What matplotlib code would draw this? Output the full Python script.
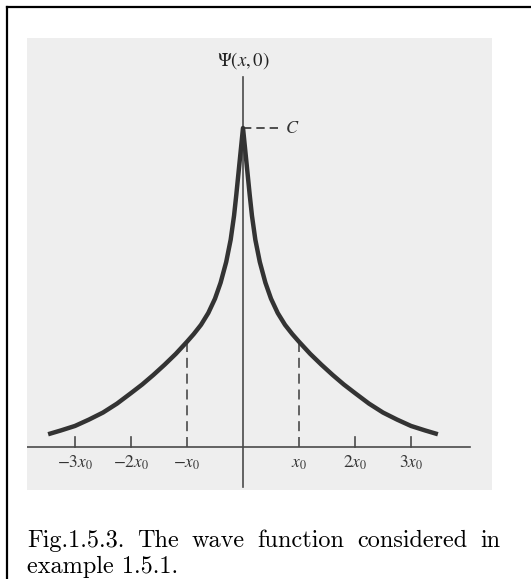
import matplotlib.pyplot as plt
from matplotlib.lines import Line2D

W, H = 531, 579

# right branch of Psi(x,0)/C, x in units of x0 (left branch is the mirror)
x_pts = [0.0, 0.04, 0.08, 0.12, 0.16, 0.22, 0.3, 0.4, 0.5, 0.62, 0.75, 0.88,
         1.0, 1.2, 1.4, 1.6, 1.8, 2.0, 2.25, 2.5, 2.75, 3.0, 3.25, 3.48]
psi_pts = [1.0, 0.93, 0.86, 0.79, 0.725, 0.65, 0.58, 0.515, 0.465, 0.42, 0.383, 0.354,
           0.33, 0.292, 0.258, 0.226, 0.196, 0.169, 0.136, 0.108, 0.086, 0.066, 0.052, 0.04]

tick_pos = [-3, -2, -1, 1, 2, 3]
tick_labels = [r'$-3x_0$', r'$-2x_0$', r'$-x_0$', r'$x_0$', r'$2x_0$', r'$3x_0$']
dashed_at = [-1, 1]

caption1 = "Fig.1.5.3. The wave function considered in"
caption2 = "example 1.5.1."

xs = [-x for x in reversed(x_pts)] + x_pts[1:]
ys = list(reversed(psi_pts)) + psi_pts[1:]
psi_at = dict(zip(x_pts, psi_pts))

fig = plt.figure(figsize=(W / 100, H / 100), dpi=100)
fig.patch.set_facecolor('white')

# frame of the figure box (runs off the right and bottom edges)
fig.add_artist(Line2D([7 / W, 1], [1 - 7 / H, 1 - 7 / H], color='black', lw=1.6))
fig.add_artist(Line2D([7 / W, 7 / W], [1 - 7 / H, 0], color='black', lw=1.6))

ax = fig.add_axes([27 / W, (H - 490) / H, 465 / W, 452 / H])
ax.set_facecolor('#eeeeee')
ax.set_xlim((27 - 243) / 56, (492 - 243) / 56)
ax.set_ylim((447 - 490) / 319, (447 - 38) / 319)
ax.set_xticks([])
ax.set_yticks([])
for s in ax.spines.values():
    s.set_visible(False)

axis_col = '#4a4a4a'
ax.plot([ax.get_xlim()[0], 4.05], [0, 0], color=axis_col, lw=1.2, zorder=2)
ax.plot([0, 0], [-0.125, 1.16], color=axis_col, lw=1.2, zorder=2)

for t in tick_pos:
    if t in dashed_at:
        ax.plot([t, t], [0, psi_at[abs(t)]], color=axis_col, lw=1.2,
                dashes=(6, 3.5), zorder=2)
    else:
        ax.plot([t, t], [0, 0.03], color=axis_col, lw=1.2, zorder=2)

for t, lab in zip(tick_pos, tick_labels):
    ax.text(t, -0.05, lab, ha='center', va='center', fontsize=12.5,
            math_fontfamily='stix', color='#333333')

# the C level marker
ax.plot([0, 0.7], [1, 1], color='#333333', lw=1.2, dashes=(5, 3), zorder=2)
ax.text(0.88, 1.0, r'$C$', ha='center', va='center', fontsize=13,
        math_fontfamily='stix', color='#333333')

ax.text(0, 1.213, r'$\Psi(x,0)$', ha='center', va='center', fontsize=13.5,
        math_fontfamily='stix', color='#222222')

ax.plot(xs, ys, color='#333333', lw=3.2, solid_capstyle='butt',
        solid_joinstyle='round', zorder=3)

# caption, first line justified between the margins
fig.canvas.draw()
r = fig.canvas.get_renderer()
words = caption1.split()
texts = [fig.text(0, 1 - 547 / H, w, family='cmr10', fontsize=17.5,
                  va='baseline', ha='left') for w in words]
widths = [t.get_window_extent(r).width for t in texts]
x_left, x_right = 27, 500
gap = (x_right - x_left - sum(widths)) / (len(words) - 1)
x = x_left
for t, w in zip(texts, widths):
    t.set_x(x / W)
    x += w + gap
fig.text(27 / W, 1 - 573 / H, caption2, family='cmr10', fontsize=17.5,
         va='baseline', ha='left')

fig.savefig('out.png', dpi=100)
